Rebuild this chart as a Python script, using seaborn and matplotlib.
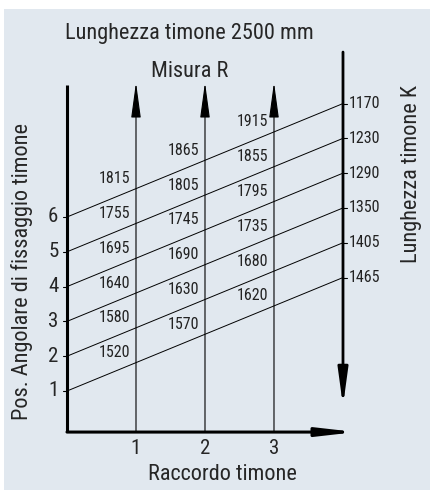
import matplotlib
matplotlib.use("Agg")
import matplotlib.pyplot as plt
import pandas as pd
import seaborn as sns

# Posizioni angolari (asse sinistro) e lunghezza timone K (asse destro)
positions = [1, 2, 3, 4, 5, 6]
k_values = [1465, 1405, 1350, 1290, 1230, 1170]
raccordo = [1, 2, 3]
# Misura R per raccordo 1, 2, 3 (dal basso verso l'alto: pos 1..6)
misura_r1 = [1520, 1580, 1640, 1695, 1755, 1815]
misura_r2 = [1570, 1630, 1690, 1745, 1805, 1865]
misura_r3 = [1620, 1680, 1735, 1795, 1855, 1915]

BG = "#e1e8ef"
K_X = 4.0      # posizione dell'asse K
SHIFT = 3.26   # salita delle rette tra asse sinistro e asse K
Y_BOT = -0.18  # asse orizzontale

sns.set_style("white")
plt.rcParams["font.family"] = ["Roboto Condensed", "DejaVu Sans"]

fig = plt.figure(figsize=(4.3, 4.9), dpi=100)
ax = fig.add_axes([4 / 430, 0, 426 / 430, 481 / 490])
ax.set_facecolor(BG)

# rette del nomogramma
rows = []
for p in positions:
    rows.append({"pos": p, "x": 0.0, "y": p})
    rows.append({"pos": p, "x": K_X, "y": p + SHIFT})
df = pd.DataFrame(rows)
sns.lineplot(data=df, x="x", y="y", units="pos", estimator=None,
             color="black", lw=0.7, ax=ax, legend=False)

# assi
ax.plot([0, 0], [Y_BOT, 9.79], color="black", lw=2.2, solid_capstyle="butt")
ax.annotate("", xy=(K_X + 0.19, Y_BOT), xytext=(0, Y_BOT),
            arrowprops=dict(arrowstyle="-|>,head_length=2.2,head_width=0.25",
                            color="black", lw=2.2, mutation_scale=10,
                            shrinkA=0, shrinkB=0))
ax.annotate("", xy=(K_X, 0.57), xytext=(K_X, 10.74),
            arrowprops=dict(arrowstyle="-|>,head_length=2.2,head_width=0.3",
                            color="black", lw=2.0, mutation_scale=10,
                            shrinkA=0, shrinkB=0))
for r in raccordo:
    ax.annotate("", xy=(r, 9.87), xytext=(r, Y_BOT),
                arrowprops=dict(arrowstyle="-|>,head_length=2.2,head_width=0.3",
                                color="black", lw=0.8, mutation_scale=10,
                                shrinkA=0, shrinkB=0))
    ax.text(r, Y_BOT - 0.2, str(r), ha="center", va="top", fontsize=15)

# tacche e etichette asse sinistro
for p in positions:
    ax.plot([-0.06, 0], [p, p], color="black", lw=0.8)
    ax.text(-0.2, p, str(p), ha="center", va="center", fontsize=15)

# tacche e etichette asse K
for p, k in zip(positions, k_values):
    ax.plot([K_X, K_X + 0.06], [p + SHIFT, p + SHIFT], color="black", lw=0.8)
    ax.text(K_X + 0.08, p + SHIFT, str(k), ha="left", va="center",
            fontsize=11.5, color="#222222")

# valori di Misura R
for r, vals in zip(raccordo, [misura_r1, misura_r2, misura_r3]):
    for p, v in zip(positions, vals):
        y = p + SHIFT * r / K_X
        ax.text(r - 0.09, y + 0.07, str(v), ha="right", va="bottom",
                fontsize=11.5, color="#222222")

# testi
ax.text(1.78, 11.28, "Lunghezza timone 2500 mm", ha="center", va="center", fontsize=16)
ax.text(1.78, 10.17, "Misura R", ha="center", va="center", fontsize=16)
ax.text(2.25, -1.41, "Raccordo timone", ha="center", va="center", fontsize=16)
ax.text(-0.65, 4.42, "Pos. Angolare di fissaggio timone", ha="center", va="center",
        rotation=90, fontsize=16)
ax.text(5.0, 7.24, "Lunghezza timone K", ha="center", va="center",
        rotation=90, fontsize=16)

ax.set_xlim(-0.913, 5.261)
ax.set_ylim(-1.845, 11.977)
ax.set_xticks([])
ax.set_yticks([])
ax.set_xlabel("")
ax.set_ylabel("")
for s in ax.spines.values():
    s.set_visible(False)

fig.savefig("out.png", dpi=100, facecolor="white")
